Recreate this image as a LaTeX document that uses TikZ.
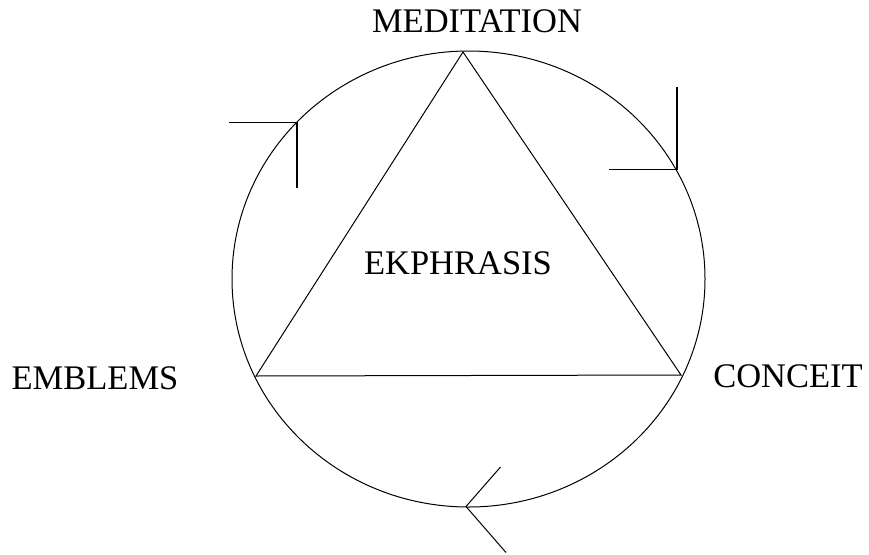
\documentclass[tikz,border=0pt]{standalone}
\usepackage{fontspec}
\setmainfont{Liberation Serif}
\begin{document}
\begin{tikzpicture}[x=1pt,y=-1pt]
\useasboundingbox (0,0) rectangle (869,554);
\draw[line width=1pt] (468.5,279) ellipse [x radius=236.5, y radius=228];
\coordinate (top) at (463,52);
\coordinate (left) at (256,376);
\coordinate (right) at (681,375);
\draw[line width=1pt] (top) -- (left) -- (right) -- cycle;
\node[anchor=base, inner sep=0pt, font=\fontsize{34.5}{40}\selectfont] (med) at (477,32) {MEDITATION};
\node[anchor=base, inner sep=0pt, font=\fontsize{34.5}{40}\selectfont] (ekp) at (458,274) {EKPHRASIS};
\node[anchor=base, inner sep=0pt, font=\fontsize{34.5}{40}\selectfont] (con) at (788,387) {CONCEIT};
\node[anchor=base, inner sep=0pt, font=\fontsize{34.5}{40}\selectfont] (emb) at (95,389) {EMBLEMS};
\coordinate (m1) at (297,122.5);
\coordinate (m1a) at (229,122.5);
\coordinate (m1b) at (297,187.5);
\draw[line width=1.4pt] (m1a) -- (m1) -- (m1b);
\coordinate (m2) at (677,169.5);
\coordinate (m2a) at (677,87);
\coordinate (m2b) at (608.5,169.5);
\draw[line width=1.4pt] (m2a) -- (m2) -- (m2b);
\coordinate (m3) at (466,506.5);
\coordinate (m3a) at (500.5,467);
\coordinate (m3b) at (506,552.5);
\draw[line width=1pt] (m3a) -- (m3) -- (m3b);
\end{tikzpicture}
\end{document}
